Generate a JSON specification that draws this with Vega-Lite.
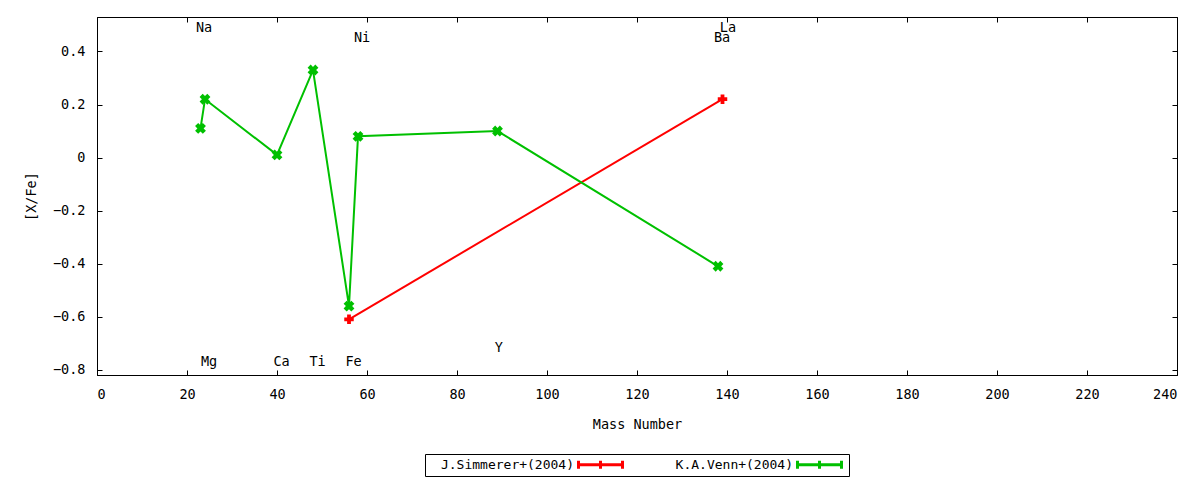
{
  "$schema": "https://vega.github.io/schema/vega-lite/v6.json",
  "width": 1080,
  "height": 358,
  "autosize": "none",
  "padding": {"left": 97, "top": 17, "right": 23, "bottom": 105},
  "background": "white",
  "datasets": {
    "abund": [
      {"series": "J.Simmerer+(2004)", "el": "Fe", "mass": 56, "value": -0.61},
      {"series": "J.Simmerer+(2004)", "el": "La", "mass": 139, "value": 0.22},
      {"series": "K.A.Venn+(2004)", "el": "Na", "mass": 23, "value": 0.11},
      {"series": "K.A.Venn+(2004)", "el": "Mg", "mass": 24, "value": 0.22},
      {"series": "K.A.Venn+(2004)", "el": "Ca", "mass": 40, "value": 0.01},
      {"series": "K.A.Venn+(2004)", "el": "Ti", "mass": 48, "value": 0.33},
      {"series": "K.A.Venn+(2004)", "el": "Fe", "mass": 56, "value": -0.56},
      {"series": "K.A.Venn+(2004)", "el": "Ni", "mass": 58, "value": 0.08},
      {"series": "K.A.Venn+(2004)", "el": "Y", "mass": 89, "value": 0.10},
      {"series": "K.A.Venn+(2004)", "el": "Ba", "mass": 138, "value": -0.41}
    ],
    "labels": [
      {"el": "Na", "mass": 23.8, "value": 0.49},
      {"el": "Ni", "mass": 58.9, "value": 0.45},
      {"el": "La", "mass": 140.2, "value": 0.49},
      {"el": "Ba", "mass": 138.9, "value": 0.45},
      {"el": "Mg", "mass": 24.9, "value": -0.77},
      {"el": "Ca", "mass": 41, "value": -0.77},
      {"el": "Ti", "mass": 49, "value": -0.77},
      {"el": "Fe", "mass": 57, "value": -0.77},
      {"el": "Y", "mass": 89.3, "value": -0.72}
    ]
  },
  "layer": [
    {
      "data": {"name": "abund"},
      "mark": {"type": "line", "strokeWidth": 2},
      "encoding": {
        "x": {
          "field": "mass",
          "type": "quantitative",
          "scale": {"domain": [0, 240], "nice": false, "zero": false},
          "axis": {
            "values": [0, 20, 40, 60, 80, 100, 120, 140, 160, 180, 200, 220, 240],
            "title": "Mass Number",
            "tickSize": -5,
            "labelPadding": 17,
            "titlePadding": 17
          }
        },
        "y": {
          "field": "value",
          "type": "quantitative",
          "scale": {"domain": [-0.82, 0.53], "nice": false, "zero": false},
          "axis": {
            "values": [-0.8, -0.6, -0.4, -0.2, 0, 0.2, 0.4],
            "format": ".1~f",
            "title": "[X/Fe]",
            "tickSize": -5,
            "labelPadding": 17,
            "titlePadding": 14
          }
        },
        "color": {
          "field": "series",
          "type": "nominal",
          "scale": {"domain": ["J.Simmerer+(2004)", "K.A.Venn+(2004)"], "range": ["#ff0000", "#00c000"]},
          "legend": {
            "title": null,
            "orient": "none",
            "legendX": 328,
            "legendY": 437,
            "direction": "horizontal",
            "symbolType": "M-2.75,0H2.75M-2.75,-0.5V0.5M2.75,-0.5V0.5M0,-0.5V0.5",
            "symbolSize": 256,
            "symbolStrokeWidth": 3,
            "symbolOffset": 165,
            "labelAlign": "right",
            "labelOffset": -36
          }
        }
      }
    },
    {
      "data": {"name": "abund"},
      "transform": [{"filter": "datum.series == 'J.Simmerer+(2004)'"}],
      "mark": {"type": "point", "shape": "cross", "filled": true, "size": 90, "color": "#ff0000", "opacity": 1},
      "encoding": {
        "x": {"field": "mass", "type": "quantitative", "axis": null},
        "y": {"field": "value", "type": "quantitative", "axis": null}
      }
    },
    {
      "data": {"name": "abund"},
      "transform": [{"filter": "datum.series == 'K.A.Venn+(2004)'"}],
      "mark": {"type": "point", "shape": "cross", "angle": 45, "filled": true, "size": 120, "color": "#00c000", "opacity": 1},
      "encoding": {
        "x": {"field": "mass", "type": "quantitative", "axis": null},
        "y": {"field": "value", "type": "quantitative", "axis": null}
      }
    },
    {
      "data": {"name": "labels"},
      "mark": {"type": "text", "font": "DejaVu Sans Mono", "fontSize": 13.5, "color": "black"},
      "encoding": {
        "x": {
          "field": "mass",
          "type": "quantitative",
          "axis": {
            "orient": "top",
            "values": [20, 40, 60, 80, 100, 120, 140, 160, 180, 200, 220],
            "labels": false,
            "title": null,
            "tickSize": -5,
            "domain": true
          }
        },
        "y": {
          "field": "value",
          "type": "quantitative",
          "axis": {
            "orient": "right",
            "values": [-0.8, -0.6, -0.4, -0.2, 0, 0.2, 0.4],
            "labels": false,
            "title": null,
            "tickSize": -5,
            "domain": true
          }
        },
        "text": {"field": "el"}
      }
    }
  ],
  "resolve": {"axis": {"x": "independent", "y": "independent"}},
  "config": {
    "view": {"stroke": "black", "strokeWidth": 1},
    "font": "DejaVu Sans Mono",
    "axis": {
      "grid": false,
      "domainColor": "black",
      "tickColor": "black",
      "labelColor": "black",
      "titleColor": "black",
      "labelFont": "DejaVu Sans Mono",
      "titleFont": "DejaVu Sans Mono",
      "labelFontSize": 13.5,
      "titleFontSize": 13.5,
      "titleFontWeight": "normal"
    },
    "legend": {
      "labelFont": "DejaVu Sans Mono",
      "labelFontSize": 13,
      "labelColor": "black",
      "strokeColor": "black",
      "padding": 1,
      "columnPadding": 16,
      "labelLimit": 300
    }
  }
}
